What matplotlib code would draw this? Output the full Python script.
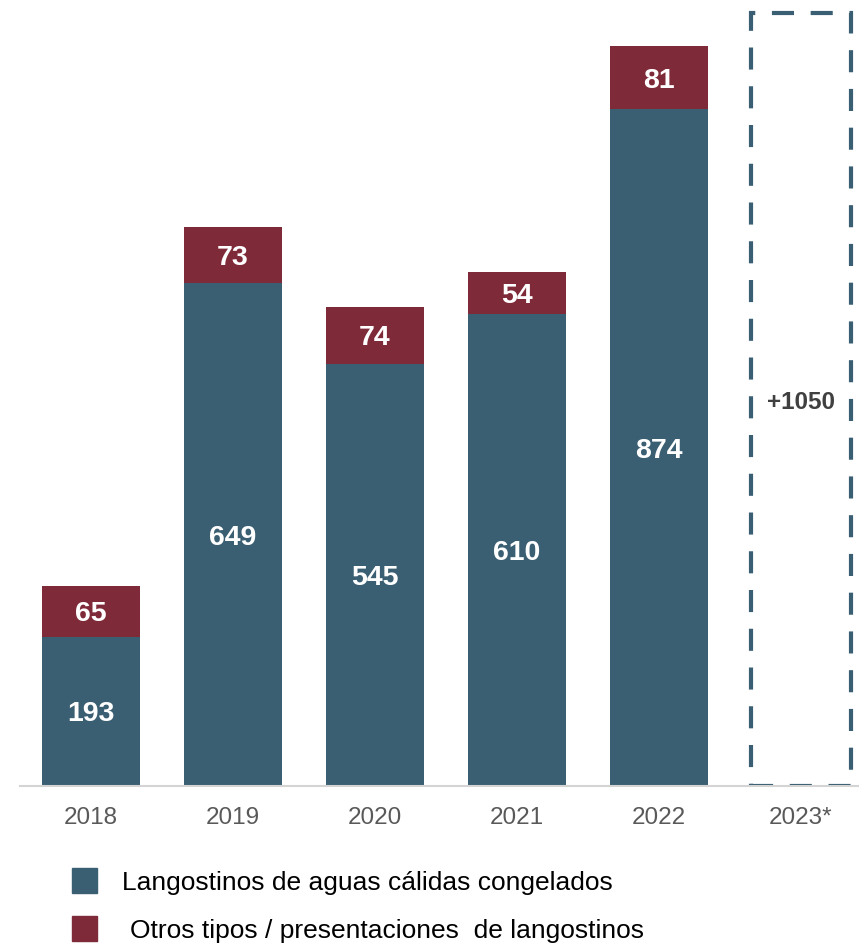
import matplotlib.pyplot as plt
from matplotlib.patches import Rectangle

years = ["2018", "2019", "2020", "2021", "2022", "2023*"]
calidos = [193, 649, 545, 610, 874]
otros = [65, 73, 74, 54, 81]
est_2023 = 998  # height of dashed box
est_label = "+1050"

blue = "#3a5e72"
red = "#7f2a38"

plt.rcParams['font.family'] = ['Liberation Sans', 'DejaVu Sans']

fig = plt.figure(figsize=(8.59, 9.43), dpi=100)
ax = fig.add_axes([20/859, 157/943, 839/859, 786/943])

x = list(range(len(calidos)))
w = 0.69
ax.bar(x, calidos, width=w, color=blue, edgecolor="none")
ax.bar(x, otros, width=w, bottom=calidos, color=red, edgecolor="none")

for i in x:
    ax.text(i, calidos[i] / 2 - 4, str(calidos[i]), ha="center", va="center",
            color="white", fontsize=20.5, fontweight="bold")
    ax.text(i, calidos[i] + otros[i] / 2 - 4, str(otros[i]), ha="center", va="center",
            color="white", fontsize=20.5, fontweight="bold")

# 2023 estimate, dashed outline
i5 = len(calidos)
ax.bar(i5, est_2023, width=0.705, facecolor="none", edgecolor=blue,
       linewidth=3, linestyle=(0, (5.3, 4)))
ax.text(i5, est_2023 / 2 - 4, est_label, ha="center", va="center",
        color="#404040", fontsize=17.5, fontweight="bold")

ax.set_xlim(-0.5, 5.41)
ax.set_ylim(0, 1015)
ax.set_xticks(range(len(years)))
ax.set_xticklabels(years, fontsize=17.5, color="#595959")
ax.tick_params(axis="x", length=0, pad=15)
ax.set_yticks([])
for s in ["top", "right", "left"]:
    ax.spines[s].set_visible(False)
ax.spines["bottom"].set_color("#d4d4d4")
ax.spines["bottom"].set_linewidth(1.5)

# legend
fig.patches.append(Rectangle((72/859, 1 - 893/943), 25/859, 25/943,
                             transform=fig.transFigure, color=blue))
fig.patches.append(Rectangle((72/859, 1 - 941/943), 25/859, 25/943,
                             transform=fig.transFigure, color=red))
fig.text(122/859, 1 - 883/943, "Langostinos de aguas cálidas congelados",
         fontsize=19, va="center", color="black")
fig.text(130/859, 1 - 931/943, "Otros tipos / presentaciones  de langostinos",
         fontsize=19, va="center", color="black")

fig.savefig("out.png", dpi=100)
